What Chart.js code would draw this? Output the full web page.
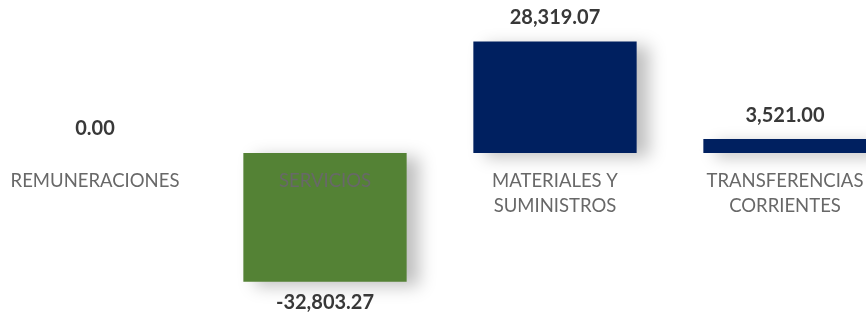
<!DOCTYPE html>
<html>
<head>
<meta charset="utf-8">
<script src="https://cdn.jsdelivr.net/npm/chart.js@4"></script>
<style>
  html, body { margin: 0; padding: 0; background: #fff; overflow: hidden; }
  #wrap { width: 866px; height: 316px; overflow: hidden; position: relative; }
  #chart { position: absolute; left: -20px; top: 0; }
</style>
</head>
<body>
<div id="wrap"><canvas id="chart" width="920" height="316"></canvas></div>
<script>
// data
const categories = [['REMUNERACIONES'], ['SERVICIOS'], ['MATERIALES Y', 'SUMINISTROS'], ['TRANSFERENCIAS', 'CORRIENTES']];
const values = [0, -32803.27, 28319.07, 3521.00];
const barColors = ['#002060', '#548235', '#002060', '#002060'];

const FONT = "Lato, 'Noto Sans', sans-serif";

function fmt(v) {
  return v.toLocaleString('en-US', { minimumFractionDigits: 2, maximumFractionDigits: 2 });
}

// soft drop shadow behind the bars
const barShadow = {
  id: 'barShadow',
  beforeDatasetsDraw(chart) {
    const ctx = chart.ctx;
    ctx.save();
    ctx.shadowColor = 'rgba(0,0,0,0.25)';
    ctx.shadowBlur = 16;
    ctx.shadowOffsetX = 12;
    ctx.shadowOffsetY = 4;
  },
  afterDatasetsDraw(chart) {
    chart.ctx.restore();
  },
};

// category labels sit at the zero line, value labels at the bar ends
const barLabels = {
  id: 'barLabels',
  afterDatasetsDraw(chart) {
    const ctx = chart.ctx;
    const x = chart.scales.x, y = chart.scales.y;
    const y0 = y.getPixelForValue(0);
    ctx.save();
    ctx.textAlign = 'center';
    ctx.textBaseline = 'middle';
    categories.forEach((lines, i) => {
      const cx = x.getPixelForValue(i);
      ctx.font = `18.5px ${FONT}`;
      ctx.fillStyle = '#686868';
      lines.forEach((ln, k) => ctx.fillText(ln, cx, y0 + 28 + k * 25));

      const v = values[i];
      const yEnd = y.getPixelForValue(v);
      ctx.font = `bold 20px ${FONT}`;
      ctx.fillStyle = '#383838';
      if (v >= 0) ctx.fillText(fmt(v), cx, yEnd - 24);
      else ctx.fillText(fmt(v), cx, yEnd + 21);
    });
    ctx.restore();
  },
};

new Chart(document.getElementById('chart'), {
  type: 'bar',
  data: {
    labels: categories,
    datasets: [{
      data: values,
      backgroundColor: barColors,
      borderWidth: 0,
      barPercentage: 1,
      categoryPercentage: 0.71,
    }],
  },
  options: {
    responsive: false,
    animation: false,
    devicePixelRatio: 1,
    layout: { padding: 0 },
    plugins: { legend: { display: false }, tooltip: { enabled: false } },
    scales: {
      x: { display: false },
      y: { display: false, min: -41500, max: 38900 },
    },
  },
  plugins: [barShadow, barLabels],
});
</script>
</body>
</html>
